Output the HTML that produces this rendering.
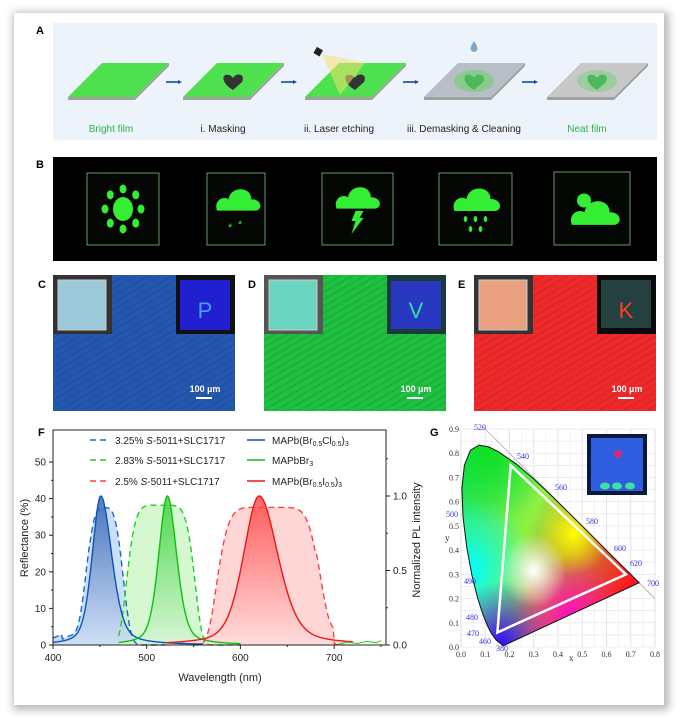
<!DOCTYPE html>
<html><head><meta charset="utf-8"><style>
html,body{margin:0;padding:0;background:#fff;}
body{width:680px;height:718px;position:relative;overflow:hidden;font-family:"Liberation Sans",Arial,sans-serif;}
#card{position:absolute;left:14px;top:13px;width:650px;height:692px;background:#fff;box-shadow:2px 2px 8px 3px rgba(0,0,0,0.28);}
svg{position:absolute;left:0;top:0;}
</style></head><body>
<div id="card"></div>
<svg id="s" width="680" height="718" viewBox="0 0 680 718" font-family="Liberation Sans, Arial, sans-serif">
<defs>
 <linearGradient id="gB" x1="0" y1="0" x2="0" y2="1"><stop offset="0" stop-color="#1d4fa8"/><stop offset="1" stop-color="#cfe0f5"/></linearGradient>
 <linearGradient id="gG" x1="0" y1="0" x2="0" y2="1"><stop offset="0" stop-color="#22cc22"/><stop offset="1" stop-color="#d8f5d8"/></linearGradient>
 <linearGradient id="gR" x1="0" y1="0" x2="0" y2="1"><stop offset="0" stop-color="#ff3030"/><stop offset="1" stop-color="#ffe0e0"/></linearGradient>
 <linearGradient id="cieBase" x1="0" y1="0" x2="1" y2="0.6"><stop offset="0" stop-color="#00e070"/><stop offset="0.45" stop-color="#90f040"/><stop offset="1" stop-color="#ff1020"/></linearGradient>
 <radialGradient id="cCyan" cx="0.05" cy="0.62" r="0.35"><stop offset="0" stop-color="#00ffff"/><stop offset="1" stop-color="#00ffff" stop-opacity="0"/></radialGradient>
 <radialGradient id="cBlue" cx="0.22" cy="0.98" r="0.3"><stop offset="0" stop-color="#3010ff"/><stop offset="1" stop-color="#3010ff" stop-opacity="0"/></radialGradient>
 <radialGradient id="cMag" cx="0.6" cy="0.85" r="0.3"><stop offset="0" stop-color="#ff10c0"/><stop offset="1" stop-color="#ff10c0" stop-opacity="0"/></radialGradient>
 <radialGradient id="cYel" cx="0.62" cy="0.45" r="0.2"><stop offset="0" stop-color="#ffff00"/><stop offset="1" stop-color="#ffff00" stop-opacity="0"/></radialGradient>
 <radialGradient id="cWhite" cx="0.4" cy="0.63" r="0.18"><stop offset="0" stop-color="#ffffff"/><stop offset="1" stop-color="#ffffff" stop-opacity="0"/></radialGradient>
 <radialGradient id="cGreen" cx="0.15" cy="0.05" r="0.35"><stop offset="0" stop-color="#10e020"/><stop offset="1" stop-color="#10e020" stop-opacity="0"/></radialGradient>
 <clipPath id="cieClip"><path id="locusClip"/></clipPath>
 <pattern id="streak" width="6" height="6" patternUnits="userSpaceOnUse" patternTransform="rotate(-30)"><rect width="6" height="2" fill="#000" opacity="0.08"/></pattern>
</defs>
<rect x="53" y="23" width="604" height="117" fill="#edf3fa"/>
<g id="films"></g>
<g font-size="10" text-anchor="middle">
<text x="111" y="132" fill="#2ab24a">Bright film</text>
<text x="223" y="132" fill="#222">i. Masking</text>
<text x="339" y="132" fill="#222">ii. Laser etching</text>
<text x="464" y="132" fill="#222">iii. Demasking &amp; Cleaning</text>
<text x="587" y="132" fill="#2ab24a">Neat film</text>
</g>
<rect x="53" y="157" width="604" height="104" fill="#000"/>
<g id="bframes"></g>
<rect x="53" y="275" width="182" height="136" fill="#2458b0"/>
<rect x="53" y="275" width="182" height="136" fill="url(#streak)"/>
<rect x="264" y="275" width="182" height="136" fill="#1ec040"/>
<rect x="264" y="275" width="182" height="136" fill="url(#streak)"/>
<rect x="474" y="275" width="182" height="136" fill="#f02a2a"/>
<rect x="474" y="275" width="182" height="136" fill="url(#streak)"/>
<rect x="53" y="275" width="59" height="59" fill="#333"/><rect x="58" y="280" width="48" height="50" fill="#9cc8d8" stroke="#ccc"/>
<rect x="176" y="275" width="59" height="59" fill="#111"/><rect x="180" y="280" width="50" height="50" fill="#2020d0"/>
<text x="205" y="318" font-size="22" fill="#3fa0ff" text-anchor="middle">P</text>
<rect x="264" y="275" width="59" height="59" fill="#555"/><rect x="269" y="280" width="48" height="50" fill="#6ad4c0" stroke="#ccc"/>
<rect x="387" y="275" width="59" height="59" fill="#1b3a3a"/><rect x="391" y="281" width="50" height="48" fill="#2838c0"/>
<text x="416" y="318" font-size="22" fill="#30e0a0" text-anchor="middle">V</text>
<rect x="474" y="275" width="59" height="59" fill="#333"/><rect x="479" y="280" width="48" height="50" fill="#e8a080" stroke="#ccc"/>
<rect x="597" y="275" width="59" height="59" fill="#0a0a0a"/><rect x="601" y="280" width="50" height="48" fill="#24403f"/>
<text x="626" y="318" font-size="22" fill="#ff4020" text-anchor="middle">K</text>
<g font-size="9" font-weight="bold" fill="#fff" text-anchor="middle">
<text x="205" y="392">100 µm</text><rect x="196" y="397" width="16" height="2"/>
<text x="416" y="392">100 µm</text><rect x="407" y="397" width="16" height="2"/>
<text x="627" y="392">100 µm</text><rect x="618" y="397" width="16" height="2"/>
</g>
<g font-size="11" font-weight="bold" fill="#000">
<text x="36" y="34">A</text><text x="36" y="168">B</text>
<text x="38" y="288">C</text><text x="248" y="288">D</text><text x="458" y="288">E</text>
<text x="38" y="436">F</text><text x="430" y="436">G</text>
</g>
<g id="F"></g>
<g id="G"></g>
</svg>
<script>
(function(){
var NS="http://www.w3.org/2000/svg";
function el(p,t,a,txt){var e=document.createElementNS(NS,t);for(var k in a)e.setAttribute(k,a[k]);if(txt!=null)e.textContent=txt;p.appendChild(e);return e;}
var films=document.getElementById('films');
var fx=[68,183,305,424,547];
for(var i=0;i<5;i++){
 var x=fx[i],ft=63,fb=97,w=67,sk=34;
 var col=(i<3)?'#4fe04f':'#b8bec8';
 if(i==4)col='#c8c8c8';
 el(films,'path',{d:'M'+x+' '+fb+' L'+(x+w)+' '+fb+' L'+(x+w+sk)+' '+ft+' L'+(x+w+sk)+' '+(ft+3)+' L'+(x+w)+' '+(fb+3)+' L'+x+' '+(fb+3)+'Z',fill:'#a0a0a0'});
 el(films,'path',{d:'M'+x+' '+fb+' L'+(x+w)+' '+fb+' L'+(x+w+sk)+' '+ft+' L'+(x+sk)+' '+ft+'Z',fill:col});
 var cx=x+50,cy=81;
 if(i>=3){el(films,'ellipse',{cx:cx,cy:cy,rx:20,ry:11,fill:'#6ad06a',opacity:i==3?0.6:0.45});}
 if(i>=1){
  var hc=i>=3?'#4cb85c':'#333';
  el(films,'path',{d:'M'+cx+' '+(cy+9)+' C'+(cx-12)+' '+(cy+2)+' '+(cx-12)+' '+(cy-8)+' '+(cx-4)+' '+(cy-6)+' C'+(cx-1)+' '+(cy-5)+' '+cx+' '+(cy-3)+' '+cx+' '+(cy-3)+' C'+(cx+3)+' '+(cy-9)+' '+(cx+13)+' '+(cy-7)+' '+(cx+9)+' '+(cy+1)+' Z',fill:hc});
 }
 if(i==2){el(films,'path',{d:'M322 54 L340 95 L365 63 Z',fill:'#f5e070',opacity:0.55});el(films,'rect',{x:315,y:48,width:7,height:7,fill:'#222',transform:'rotate(30 318 51)'});}
 if(i==3){el(films,'path',{d:'M474 41 C470 47 469 51 474 52 C479 51 478 47 474 41Z',fill:'#7fa8c8'});}
 if(i<4){var ax=x+w+sk+0;el(films,'path',{d:'M'+(ax-3)+' 82 L'+(ax+9)+' 82',stroke:'#1a4b9a','stroke-width':1.6});el(films,'path',{d:'M'+(ax+9)+' 80 L'+(ax+13)+' 82 L'+(ax+9)+' 84Z',fill:'#1a4b9a'});}
}
var bf=document.getElementById('bframes');
var fr=[[87,173,72,72],[207,173,58,72],[322,173,71,72],[439,173,73,72],[554,172,76,73]];
var g='#33ee33';
fr.forEach(function(f,i){
 el(bf,'rect',{x:f[0],y:f[1],width:f[2],height:f[3],fill:'#050805',stroke:'#8fcf8f','stroke-width':0.8,opacity:0.9});
 var cx=f[0]+f[2]/2,cy=f[1]+f[3]/2;
 if(i==0){el(bf,'ellipse',{cx:cx,cy:cy,rx:10,ry:12,fill:g});for(var k=0;k<8;k++){var a=k*Math.PI/4;el(bf,'ellipse',{cx:cx+18*Math.cos(a),cy:cy+20*Math.sin(a),rx:3.5,ry:4.5,fill:g});}}
 else{
  var cl=function(x,y,s){el(bf,'path',{d:'M'+(x-22*s)+' '+(y+8*s)+' C'+(x-26*s)+' '+(y-2*s)+' '+(x-16*s)+' '+(y-8*s)+' '+(x-10*s)+' '+(y-4*s)+' C'+(x-8*s)+' '+(y-18*s)+' '+(x+14*s)+' '+(y-18*s)+' '+(x+14*s)+' '+(y-4*s)+' C'+(x+26*s)+' '+(y-4*s)+' '+(x+26*s)+' '+(y+8*s)+' '+(x+18*s)+' '+(y+8*s)+'Z',fill:g});};
  if(i==1){cl(cx+2,cy-6,0.95);el(bf,'text',{x:cx-8,y:cy+22,'font-size':11,fill:g},'*');el(bf,'text',{x:cx+2,y:cy+19,'font-size':11,fill:g},'*');}
  if(i==2){cl(cx,cy-8,0.95);el(bf,'path',{d:'M'+(cx-2)+' '+(cy+2)+' L'+(cx+6)+' '+(cy+2)+' L'+(cx+2)+' '+(cy+9)+' L'+(cx+6)+' '+(cy+9)+' L'+(cx-6)+' '+(cy+25)+' L'+(cx-2)+' '+(cy+12)+' L'+(cx-6)+' '+(cy+12)+'Z',fill:g});}
  if(i==3){cl(cx+1,cy-6,1);[[-10,10],[0,10],[10,10],[-5,20],[5,20]].forEach(function(p){el(bf,'ellipse',{cx:cx+p[0],cy:cy+p[1],rx:1.8,ry:3,fill:g});});}
  if(i==4){el(bf,'circle',{cx:cx-8,cy:cy-8,r:7,fill:g});cl(cx+3,cy+8,1.05);}
 }
});
var F=document.getElementById('F');
function X(w){return 53+(w-400)*0.937;}
function YR(r){return 645-r*3.66;}
function YP(p){return 645-p*149;}
function pathOf(fn,w0,w1,yf){var d='';for(var w=w0;w<=w1;w+=1){d+=(w==w0?'M':'L')+X(w).toFixed(1)+' '+yf(fn(w)).toFixed(1)+' ';}return d;}
function sg(c,s,p,A){return function(w){return A*Math.exp(-Math.pow(Math.abs((w-c)/s),p));};}
function lor(c,hl,hr){return function(w){var h=w<c?hl:hr;var t=(w-c)/h;return 1/(1+t*t)*0.4+0.6*Math.exp(-t*t*0.7);};}
var rB=function(w){return sg(455,22,3.5,37.5)(w)+(w<440?2.5*Math.exp(-Math.pow((w-420)/15,2)):0)+(w<410?1.5:0);};
var rG=sg(515,38,6,38.2);
var rR=function(w){return sg(630,57,7,37.6)(w)+(w>680&&w<700?4:0)*(1-sg(630,57,7,1)(w));};
var pB=lor(451,11,14), pG=lor(522,11,12), pR=lor(620,20,24);
var series=[[rB,pB,400,520,'#b8d4f5','url(#gB)','#1a66cc','#0b4fb0'],[rG,pG,470,600,'#c8f5c0','url(#gG)','#22cc22','#11bb11'],[rR,pR,550,710,'#ffc8c8','url(#gR)','#ff4040','#ee1111']];
series.forEach(function(s){
 var d=pathOf(s[0],s[2],s[3],YR);el(F,'path',{d:d+'L'+X(s[3])+' 645 L'+X(s[2])+' 645Z',fill:s[4],opacity:0.75});
});
series.forEach(function(s){
 var a=s[1]==pB?400:(s[1]==pG?470:520),b=s[1]==pB?560:(s[1]==pG?600:720);
 var d=pathOf(s[1],a,b,YP);el(F,'path',{d:d+'L'+X(b)+' 645 L'+X(a)+' 645Z',fill:s[5],opacity:0.75});
});
series.forEach(function(s){
 el(F,'path',{d:pathOf(s[0],s[2],s[3],YR),fill:'none',stroke:s[6],'stroke-width':1.4,'stroke-dasharray':'6 4'});
});
el(F,'path',{d:pathOf(pB,400,560,YP),fill:'none',stroke:'#0b55b8','stroke-width':1.4});
el(F,'path',{d:pathOf(pG,470,600,YP),fill:'none',stroke:'#10c010','stroke-width':1.4});
el(F,'path',{d:pathOf(pR,520,720,YP),fill:'none',stroke:'#ee1515','stroke-width':1.4});
var nz='';[[705,0.3],[715,0.8],[725,0.4],[735,1.0],[745,0.6],[750,1.2]].forEach(function(p,i){nz+=(i?'L':'M')+X(p[0])+' '+YR(p[1])+' ';});
el(F,'path',{d:nz,fill:'none',stroke:'#22cc22','stroke-width':1});
el(F,'rect',{x:53,y:430,width:333,height:215,fill:'none',stroke:'#222','stroke-width':1});
[0,10,20,30,40,50].forEach(function(v){var y=YR(v);el(F,'line',{x1:53,y1:y,x2:49,y2:y,stroke:'#222'});el(F,'text',{x:46,y:y+3.5,'font-size':10,'text-anchor':'end',fill:'#222'},v);});
[5,15,25,35,45].forEach(function(v){var y=YR(v);el(F,'line',{x1:53,y1:y,x2:51,y2:y,stroke:'#222'});});
[0,0.5,1.0].forEach(function(v){var y=YP(v);el(F,'line',{x1:386,y1:y,x2:390,y2:y,stroke:'#222'});el(F,'text',{x:393,y:y+3.5,'font-size':10,fill:'#222'},v.toFixed(1));});
[0.25,0.75,1.25].forEach(function(v){var y=YP(v);el(F,'line',{x1:386,y1:y,x2:388,y2:y,stroke:'#222'});});
[400,500,600,700].forEach(function(v){var x=X(v);el(F,'line',{x1:x,y1:645,x2:x,y2:649,stroke:'#222'});el(F,'text',{x:x,y:661,'font-size':10,'text-anchor':'middle',fill:'#222'},v);});
[450,550,650,750].forEach(function(v){var x=X(v);el(F,'line',{x1:x,y1:645,x2:x,y2:647,stroke:'#222'});});
el(F,'text',{x:220,y:681,'font-size':11,'text-anchor':'middle',fill:'#222'},'Wavelength (nm)');
el(F,'text',{x:28,y:538,'font-size':11,'text-anchor':'middle',fill:'#222',transform:'rotate(-90 28 538)'},'Reflectance (%)');
el(F,'text',{x:420,y:540,'font-size':11,'text-anchor':'middle',fill:'#222',transform:'rotate(-90 420 540)'},'Normalized  PL intensity');
var leg=[[444,'#1a66cc','3.25%','MAPb(Br','0.5','Cl','0.5',')','3','#0b55b8'],[464,'#22cc22','2.83%','MAPbBr','','','','','3','#10c010'],[485,'#ff4040','2.5%','MAPb(Br','0.5','I','0.5',')','3','#ee1515']];
leg.forEach(function(l){
 el(F,'line',{x1:90,y1:l[0]-4,x2:108,y2:l[0]-4,stroke:l[1],'stroke-width':1.4,'stroke-dasharray':'6 4'});
 var t=el(F,'text',{x:115,y:l[0],'font-size':10,fill:'#222'});
 t.innerHTML=l[2]+' <tspan font-style="italic">S</tspan>-5011+SLC1717';
 el(F,'line',{x1:247,y1:l[0]-4,x2:265,y2:l[0]-4,stroke:l[9],'stroke-width':1.4});
 var u=el(F,'text',{x:272,y:l[0],'font-size':10,fill:'#222'});
 if(l[4])u.innerHTML=l[3]+'<tspan font-size="7" dy="2">'+l[4]+'</tspan><tspan dy="-2">'+l[5]+'</tspan><tspan font-size="7" dy="2">'+l[6]+'</tspan><tspan dy="-2">'+l[7]+'</tspan><tspan font-size="7" dy="2">'+l[8]+'</tspan>';
 else u.innerHTML=l[3]+'<tspan font-size="7" dy="2">3</tspan>';
});
var G=document.getElementById('G');
function GX(x){return 461+x*242.5;}function GY(y){return 647-y*242.2;}
for(var k=0;k<=8;k++){el(G,'line',{x1:GX(k/10),y1:GY(0),x2:GX(k/10),y2:GY(0.9),stroke:'#d8d8d8','stroke-width':0.8});}
for(var k=0;k<=18;k++){el(G,'line',{x1:GX(0),y1:GY(k/20),x2:GX(0.8),y2:GY(k/20),stroke:'#e0e0e0','stroke-width':0.6});}
for(var k=1;k<=15;k++){el(G,'line',{x1:GX(k/20),y1:GY(0),x2:GX(k/20),y2:GY(0.9),stroke:'#e6e6e6','stroke-width':0.5});}
var loc=[[0.1741,0.005],[0.144,0.0297],[0.1241,0.0578],[0.1096,0.0868],[0.0913,0.1327],[0.0687,0.2007],[0.0454,0.295],[0.0235,0.4127],[0.0082,0.5384],[0.0039,0.6548],[0.0139,0.7502],[0.0389,0.812],[0.0743,0.8338],[0.1142,0.8262],[0.1547,0.8059],[0.2296,0.7543],[0.3016,0.6923],[0.3731,0.6245],[0.4441,0.5547],[0.5125,0.4866],[0.5752,0.4242],[0.627,0.3725],[0.6915,0.3083],[0.7347,0.2653]];
var ld='';loc.forEach(function(p,i){ld+=(i?'L':'M')+GX(p[0]).toFixed(1)+' '+GY(p[1]).toFixed(1)+' ';});ld+='Z';
document.getElementById('locusClip').setAttribute('d',ld);
el(G,'line',{x1:GX(0.09),y1:GY(0.91),x2:GX(0.8),y2:GY(0.2),stroke:'#aaa','stroke-width':0.8});
var cg=el(G,'g',{'clip-path':'url(#cieClip)'});
var bx=GX(0),by=GY(0.85),bw=GX(0.75)-GX(0),bh=GY(0)-GY(0.85);
['cieBase','cGreen','cCyan','cBlue','cMag','cYel','cWhite'].forEach(function(id){el(cg,'rect',{x:bx,y:by,width:bw,height:bh,fill:'url(#'+id+')'});});
el(G,'path',{d:ld,fill:'none',stroke:'#111','stroke-width':1});
el(G,'path',{d:'M'+GX(0.205)+' '+GY(0.75)+' L'+GX(0.68)+' '+GY(0.30)+' L'+GX(0.15)+' '+GY(0.06)+'Z',fill:'none',stroke:'#fff','stroke-width':2.5});
for(var k=0;k<=8;k++){el(G,'text',{x:GX(k/10),y:GY(0)+10,'font-size':8,'text-anchor':'middle',fill:'#333','font-family':'Liberation Serif, serif'},(k/10).toFixed(1));}
for(var k=0;k<=9;k++){el(G,'text',{x:GX(0)-2,y:GY(k/10)+3,'font-size':8,'text-anchor':'end',fill:'#333','font-family':'Liberation Serif, serif'},(k/10).toFixed(1));}
el(G,'text',{x:569,y:661,'font-size':9,fill:'#333','font-family':'Liberation Serif, serif'},'x');
el(G,'text',{x:445,y:541,'font-size':9,fill:'#333','font-family':'Liberation Serif, serif'},'y');
var wl=[[474,430,'520'],[517,459,'540'],[555,490,'560'],[586,524,'580'],[614,551,'600'],[630,566,'620'],[647,586,'700'],[446,517,'500'],[464,584,'490'],[466,620,'480'],[467,636,'470'],[479,644,'460'],[496,651,'380']];
wl.forEach(function(w){el(G,'text',{x:w[0],y:w[1],'font-size':8,fill:'#3333dd','font-family':'Liberation Serif, serif'},w[2]);});
el(G,'rect',{x:587,y:434,width:60,height:61,fill:'#0c1a3a'});
el(G,'rect',{x:591,y:438,width:52,height:53,fill:'#2f5fe0'});
el(G,'circle',{cx:618,cy:454,r:4,fill:'#d0306a'});
[605,617,630].forEach(function(x){el(G,'ellipse',{cx:x,cy:486,rx:5,ry:3.5,fill:'#40e0a0'});});
})();
</script>
</body></html>
